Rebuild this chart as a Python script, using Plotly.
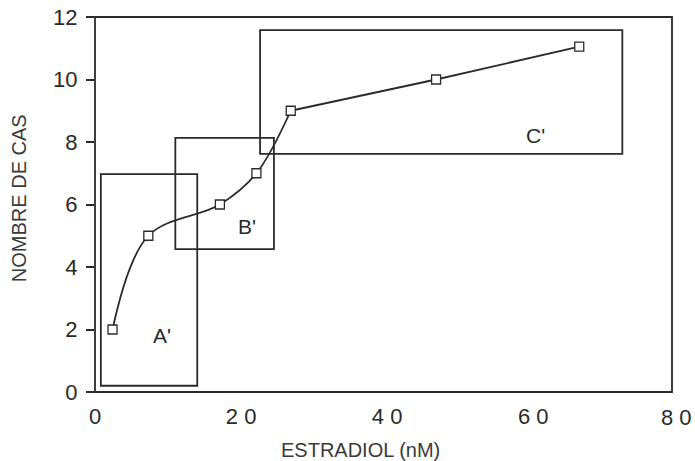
import plotly.graph_objects as go

# Data
estradiol = [2.4, 7.3, 17.1, 22.1, 26.8, 46.7, 66.3]
cas = [2.0, 5.0, 6.0, 7.0, 9.0, 10.0, 11.05]

# boxes: (x0, x1, y0, y1), labels
box_names = ["A'", "B'", "C'"]
box_x0 = [0.8, 11.0, 22.6]
box_x1 = [14.0, 24.5, 72.2]
box_y0 = [0.2, 4.57, 7.62]
box_y1 = [6.97, 8.13, 11.58]
label_x = [9.2, 20.8, 60.3]
label_y = [1.8, 5.3, 8.2]

x_ticks = [0, 20, 40, 60]
x_ticktext = ["0", "2 0", "4 0", "6 0"]
y_ticks = [0, 2, 4, 6, 8, 10, 12]

INK = "#2a2a2a"
FONT = "Liberation Sans, Arial, sans-serif"

fig = go.Figure()
# curved part (low concentrations)
fig.add_trace(go.Scatter(
    x=estradiol[:5], y=cas[:5], mode="lines",
    line=dict(color=INK, width=1.8, shape="spline", smoothing=1.0),
    showlegend=False, cliponaxis=False, hoverinfo="skip",
))
# nearly straight part (high concentrations)
fig.add_trace(go.Scatter(
    x=estradiol[4:], y=cas[4:], mode="lines",
    line=dict(color=INK, width=1.8, shape="spline", smoothing=0.3),
    showlegend=False, cliponaxis=False, hoverinfo="skip",
))
fig.add_trace(go.Scatter(
    x=estradiol, y=cas, mode="markers",
    marker=dict(symbol="square", size=9, color="white", line=dict(width=1.3, color=INK)),
    showlegend=False, cliponaxis=False,
))

for i in range(len(box_names)):
    fig.add_shape(type="rect", xref="x", yref="y",
                  x0=box_x0[i], x1=box_x1[i], y0=box_y0[i], y1=box_y1[i],
                  line=dict(color=INK, width=1.8), layer="below")
    fig.add_annotation(x=label_x[i], y=label_y[i], xref="x", yref="y",
                       text=box_names[i], showarrow=False,
                       font=dict(family=FONT, size=21, color=INK))

# frame
fig.add_shape(type="rect", xref="paper", yref="paper", x0=0, x1=1, y0=0, y1=1,
              line=dict(color=INK, width=1.8))

# last x tick label (outside the drawn frame)
fig.add_annotation(x=1.007, y=-0.0667, xref="paper", yref="paper", text="8 0",
                   showarrow=False, yanchor="middle", xanchor="center",
                   font=dict(family=FONT, size=22, color=INK))
# axis titles
fig.add_annotation(x=0.461, y=-0.1547, xref="paper", yref="paper", text="ESTRADIOL (nM)",
                   showarrow=False, yanchor="middle", xanchor="center",
                   font=dict(family=FONT, size=20, color="#3a3a3a"))
fig.add_annotation(x=-0.1317, y=0.517, xref="paper", yref="paper", text="NOMBRE DE CAS",
                   showarrow=False, textangle=-90, yanchor="middle", xanchor="center",
                   font=dict(family=FONT, size=20, color="#3a3a3a"))

fig.update_layout(
    width=695, height=461,
    margin=dict(l=95, r=23, t=17, b=69),
    paper_bgcolor="white", plot_bgcolor="white",
    font=dict(family=FONT, color=INK),
    xaxis=dict(range=[0, 79], tickvals=x_ticks, ticktext=x_ticktext, automargin=False,
               showgrid=False, zeroline=False, showline=False, ticks="",
               ticklabelstandoff=9, ticklabeloverflow="allow",
               tickfont=dict(size=22, color=INK)),
    yaxis=dict(range=[0, 12], tickvals=y_ticks, showgrid=False, zeroline=False, automargin=False,
               showline=False, ticks="outside", ticklen=8, tickwidth=1.8, tickcolor=INK,
               ticklabelstandoff=4, ticklabeloverflow="allow",
               tickfont=dict(size=22, color=INK)),
)

fig.write_html("out.html",
               config={"displayModeBar": False},
               post_script="document.body.style.margin='0';document.body.style.overflow='hidden';")
